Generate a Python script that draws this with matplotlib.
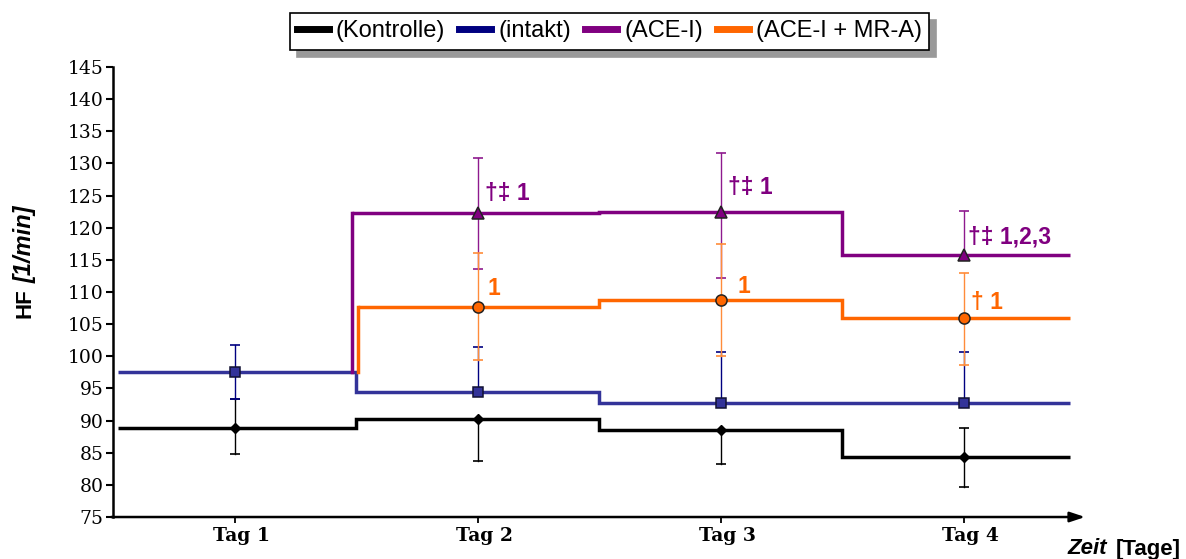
import matplotlib
matplotlib.use("Agg")
import matplotlib.pyplot as plt
import matplotlib.transforms as mtransforms
from matplotlib.lines import Line2D

# Heart rate (HF, 1/min) per group and day: mean, upper and lower error
days = [1, 2, 3, 4]
day_labels = ["Tag 1", "Tag 2", "Tag 3", "Tag 4"]

kontrolle = [88.9, 90.2, 88.6, 84.3]
kontrolle_up = [4.4, 0.0, 0.0, 4.5]
kontrolle_dn = [4.1, 6.5, 5.4, 4.7]

intakt = [97.6, 94.4, 92.8, 92.8]
intakt_up = [4.1, 7.1, 7.8, 7.9]
intakt_dn = [4.2, 0.0, 0.0, 0.0]

# ACE-I groups start on day 2
ace_days = [2, 3, 4]
ace = [122.3, 122.5, 115.8]
ace_up = [8.6, 9.1, 6.8]
ace_dn = [8.7, 10.3, 0.0]

ace_mra = [107.7, 108.7, 105.9]
ace_mra_up = [8.3, 8.8, 7.1]
ace_mra_dn = [8.2, 8.7, 7.3]

ace_marks = ["†‡ 1", "†‡ 1", "†‡ 1,2,3"]
ace_mra_marks = ["1", "1", "† 1"]

legend_labels = ["(Kontrolle)", "(intakt)", "(ACE-I)", "(ACE-I + MR-A)"]

BLACK = "#000000"
BLUE = "#333399"
NAVY = "#000080"
PURPLE = "#800080"
PURPLE_ERR = "#8E1A8E"
ORANGE = "#FF6600"
ORANGE_ERR = "#FF8C3A"

fig = plt.figure(figsize=(11.86, 5.59), dpi=100)
ax = fig.add_axes([0.0953, 0.0751, 0.8196, 0.805])
ax.set_xlim(0.5, 4.5)
ax.set_ylim(75, 145)

x_start, x_end = 0.52, 4.44
edges_full = [x_start, 1.5, 2.5, 3.5, x_end]
lw = 2.5

# step lines
ax.stairs(kontrolle, edges_full, baseline=None, color=BLACK, lw=lw, zorder=2)
ax.stairs(intakt, edges_full, baseline=None, color=BLUE, lw=lw, zorder=2)
ax.stairs(ace_mra, [1.51, 2.5, 3.5, x_end], baseline=None, color=ORANGE,
          lw=lw, zorder=2)
ax.plot([1.51, 1.51], [intakt[0], ace_mra[0]], color=ORANGE, lw=lw, zorder=2)
ax.stairs(ace, [1.485, 2.5, 3.5, x_end], baseline=None, color=PURPLE,
          lw=lw, zorder=2)
ax.plot([1.485, 1.485], [intakt[0], ace[0]], color=PURPLE, lw=lw, zorder=2)


def error_whiskers(xs, ys, up, dn, color):
    for x, y, u, d in zip(xs, ys, up, dn):
        for end in ([y + u] if u > 0 else []) + ([y - d] if d > 0 else []):
            ax.plot([x, x], [y, end], color=color, lw=1.0, zorder=3)
            ax.plot([x], [end], marker="_", ms=7, mew=1.2, color=color,
                    zorder=3)


error_whiskers(days, kontrolle, kontrolle_up, kontrolle_dn, BLACK)
error_whiskers(days, intakt, intakt_up, intakt_dn, NAVY)
error_whiskers(ace_days, ace, ace_up, ace_dn, PURPLE_ERR)
error_whiskers(ace_days, ace_mra, ace_mra_up, ace_mra_dn, ORANGE_ERR)

# markers
ax.plot(days, kontrolle, "D", ms=5, color=BLACK, zorder=4)
ax.plot(days, intakt, "s", ms=7.5, mfc=BLUE, mec="#111133", mew=1.1, zorder=4)
ax.plot(ace_days, ace, "^", ms=8, mfc=PURPLE, mec="#222222", mew=1.1, zorder=4)
ax.plot(ace_days, ace_mra, "o", ms=8, mfc=ORANGE, mec="#222222", mew=1.1,
        zorder=4)

# significance marks
ace_text_pos = [(2.03, 125.4), (3.03, 126.2), (4.02, 118.6)]
mra_text_pos = [(2.04, 110.6), (3.07, 110.8), (4.03, 108.3)]
for (tx, ty), s in zip(ace_text_pos, ace_marks):
    ax.text(tx, ty, s, color=PURPLE, fontsize=16.5, fontweight="bold",
            family="Liberation Sans", ha="left", va="center", zorder=5)
for (tx, ty), s in zip(mra_text_pos, ace_mra_marks):
    ax.text(tx, ty, s, color=ORANGE, fontsize=16.5, fontweight="bold",
            family="Liberation Sans", ha="left", va="center", zorder=5)

# axes styling
for side in ["top", "right", "bottom"]:
    ax.spines[side].set_visible(False)
ax.spines["left"].set_linewidth(1.8)
ax.annotate("", xy=(1.0, 0), xytext=(-0.002, 0), xycoords="axes fraction",
            arrowprops=dict(arrowstyle="-|>,head_length=0.9,head_width=0.3",
                            lw=1.8, color="black", shrinkA=0, shrinkB=0))

ax.set_yticks(range(75, 146, 5))
ax.tick_params(axis="y", direction="out", length=5, width=1.5, pad=2,
               labelsize=13.5)
for lab in ax.get_yticklabels():
    lab.set_family("DejaVu Serif")
ax.set_xticks(days)
ax.set_xticklabels(day_labels, family="DejaVu Serif", fontweight="bold",
                   fontsize=13.5)
ax.tick_params(axis="x", direction="out", length=4, width=1.3, pad=3)
# day labels sit slightly right of their ticks
shift = mtransforms.ScaledTranslation(7 / 100, 0, fig.dpi_scale_trans)
for lab in ax.get_xticklabels():
    lab.set_transform(lab.get_transform() + shift)

# axis titles
fig.text(25 / 1186, 1 - 318 / 559, "HF", rotation=90, rotation_mode="anchor",
         ha="left", va="center", fontsize=16, fontweight="bold",
         family="Liberation Sans")
fig.text(25 / 1186, 1 - 283 / 559, "[1/min]", rotation=90,
         rotation_mode="anchor", ha="left", va="center", fontsize=17,
         fontweight="bold", fontstyle="italic", family="Liberation Sans")
fig.text(1068 / 1186, 1 - 549 / 559, "Zeit", ha="left", va="center",
         fontsize=16, fontweight="bold", fontstyle="italic",
         family="Liberation Sans")
fig.text(1116 / 1186, 1 - 549 / 559, "[Tage]", ha="left", va="center",
         fontsize=16, fontweight="bold", family="Liberation Sans")

# legend
handles = [Line2D([], [], color=c, lw=5) for c in [BLACK, NAVY, PURPLE, ORANGE]]
leg = fig.legend(handles, legend_labels, loc="center",
                 bbox_to_anchor=(609.5 / 1186, 1 - 31.5 / 559), ncol=4,
                 frameon=True, fancybox=False,
                 shadow={"color": "#999999", "alpha": 1, "ox": 5, "oy": -5},
                 edgecolor="black", handlelength=1.35, handletextpad=0.3,
                 columnspacing=0.6, borderpad=0.3, borderaxespad=0,
                 prop={"family": "Liberation Sans", "size": 17})
leg.get_frame().set_linewidth(1.2)

fig.savefig("out.png", dpi=100)
